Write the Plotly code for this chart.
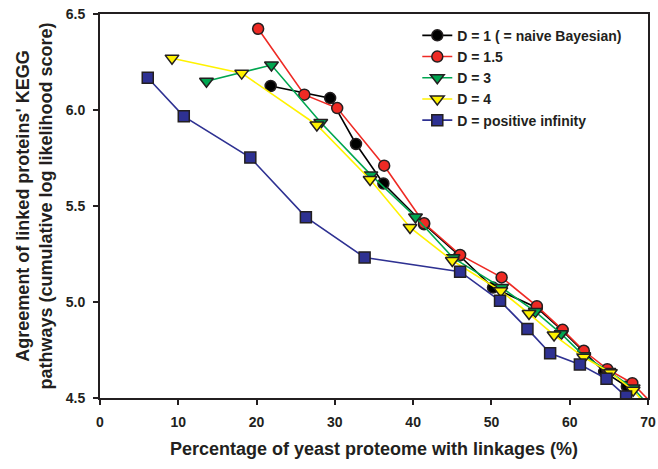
import plotly.graph_objects as go

names = ["D = 1 ( = naive Bayesian)", "D = 1.5", "D = 3", "D = 4", "D = positive infinity"]

x_d1 = [21.8, 29.4, 32.7, 36.2, 41.4, 45.9, 50.2, 55.8, 59.0, 61.7, 64.4, 67.3]
y_d1 = [6.125, 6.062, 5.823, 5.617, 5.405, 5.242, 5.075, 4.970, 4.853, 4.742, 4.636, 4.560]

x_d15 = [20.2, 26.1, 30.3, 36.3, 41.4, 46.0, 51.3, 55.8, 59.1, 61.8, 64.8, 68.0, 71.5]
y_d15 = [6.423, 6.080, 6.010, 5.710, 5.410, 5.245, 5.128, 4.978, 4.855, 4.746, 4.650, 4.577, 4.43]

x_d3 = [13.6, 21.9, 28.2, 34.6, 40.3, 45.1, 51.3, 55.6, 58.9, 61.8, 65.0, 68.1, 71.0]
y_d3 = [6.150, 6.234, 5.935, 5.662, 5.443, 5.230, 5.075, 4.950, 4.835, 4.720, 4.638, 4.552, 4.42]

x_d4 = [9.2, 18.1, 27.7, 34.5, 39.6, 45.0, 51.2, 54.8, 58.0, 61.8, 65.2, 68.1, 70.5]
y_d4 = [6.270, 6.192, 5.922, 5.638, 5.388, 5.216, 5.058, 4.940, 4.828, 4.712, 4.632, 4.540, 4.43]

x_dinf = [6.1, 10.7, 19.2, 26.3, 33.8, 46.0, 51.1, 54.6, 57.5, 61.3, 64.7, 67.2]
y_dinf = [6.168, 5.967, 5.752, 5.442, 5.232, 5.158, 5.006, 4.860, 4.733, 4.674, 4.600, 4.508]

xs = [x_d1, x_d15, x_d3, x_d4, x_dinf]
ys = [y_d1, y_d15, y_d3, y_d4, y_dinf]
line_colors = ["#000000", "#ee2a24", "#00a650", "#fff200", "#2e3192"]
fill_colors = ["#000000", "#ee2a24", "#00a650", "#fff200", "#2e3192"]
symbols = ["circle", "circle", "triangle-down", "triangle-down", "square"]
sizes = [11, 11, 12, 12, 11]

FONT = "Liberation Sans, Arial, sans-serif"

fig = go.Figure()
for n, x, y, lc, fc, s, sz in zip(names, xs, ys, line_colors, fill_colors, symbols, sizes):
    fig.add_trace(go.Scatter(
        x=x, y=y, name=n, mode="lines+markers",
        line=dict(color=lc, width=1.6),
        marker=dict(symbol=s, size=sz, color=fc, line=dict(color="#231f20", width=1.5)),
        cliponaxis=True,
    ))

fig.update_layout(
    width=658, height=469,
    margin=dict(l=100, r=10, t=14, b=71),
    paper_bgcolor="white", plot_bgcolor="white",
    font=dict(family=FONT, color="#231f20"),
    showlegend=True,
    legend=dict(x=0.579, y=0.985, xanchor="left", yanchor="top",
                font=dict(size=14, family=FONT, weight="bold"),
                bgcolor="rgba(0,0,0,0)", tracegroupgap=0),
)
fig.update_xaxes(
    range=[0, 70], tickvals=[0, 10, 20, 30, 40, 50, 60, 70],
    showline=True, linecolor="#231f20", linewidth=2, mirror=True,
    ticks="outside", ticklen=5, tickwidth=1.5, tickcolor="#231f20",
    showgrid=False, zeroline=False, automargin=False,
    ticklabelstandoff=5,
    tickfont=dict(size=14, weight="bold"),
    title=dict(text="Percentage of yeast proteome with linkages (%)",
               font=dict(size=18, weight="bold"), standoff=14),
)
fig.update_yaxes(
    range=[4.5, 6.5], tickvals=[4.5, 5.0, 5.5, 6.0, 6.5], ticktext=["4.5", "5.0", "5.5", "6.0", "6.5"],
    showline=True, linecolor="#231f20", linewidth=2, mirror=True,
    ticks="outside", ticklen=5, tickwidth=1.5, tickcolor="#231f20",
    showgrid=False, zeroline=False, automargin=False,
    ticklabelstandoff=5,
    tickfont=dict(size=14, weight="bold"),
    title=dict(text="Agreement of linked proteins' KEGG<br>pathways (cumulative log likelihood score)",
               font=dict(size=18, weight="bold"), standoff=8),
)
fig.write_html("out.html")
